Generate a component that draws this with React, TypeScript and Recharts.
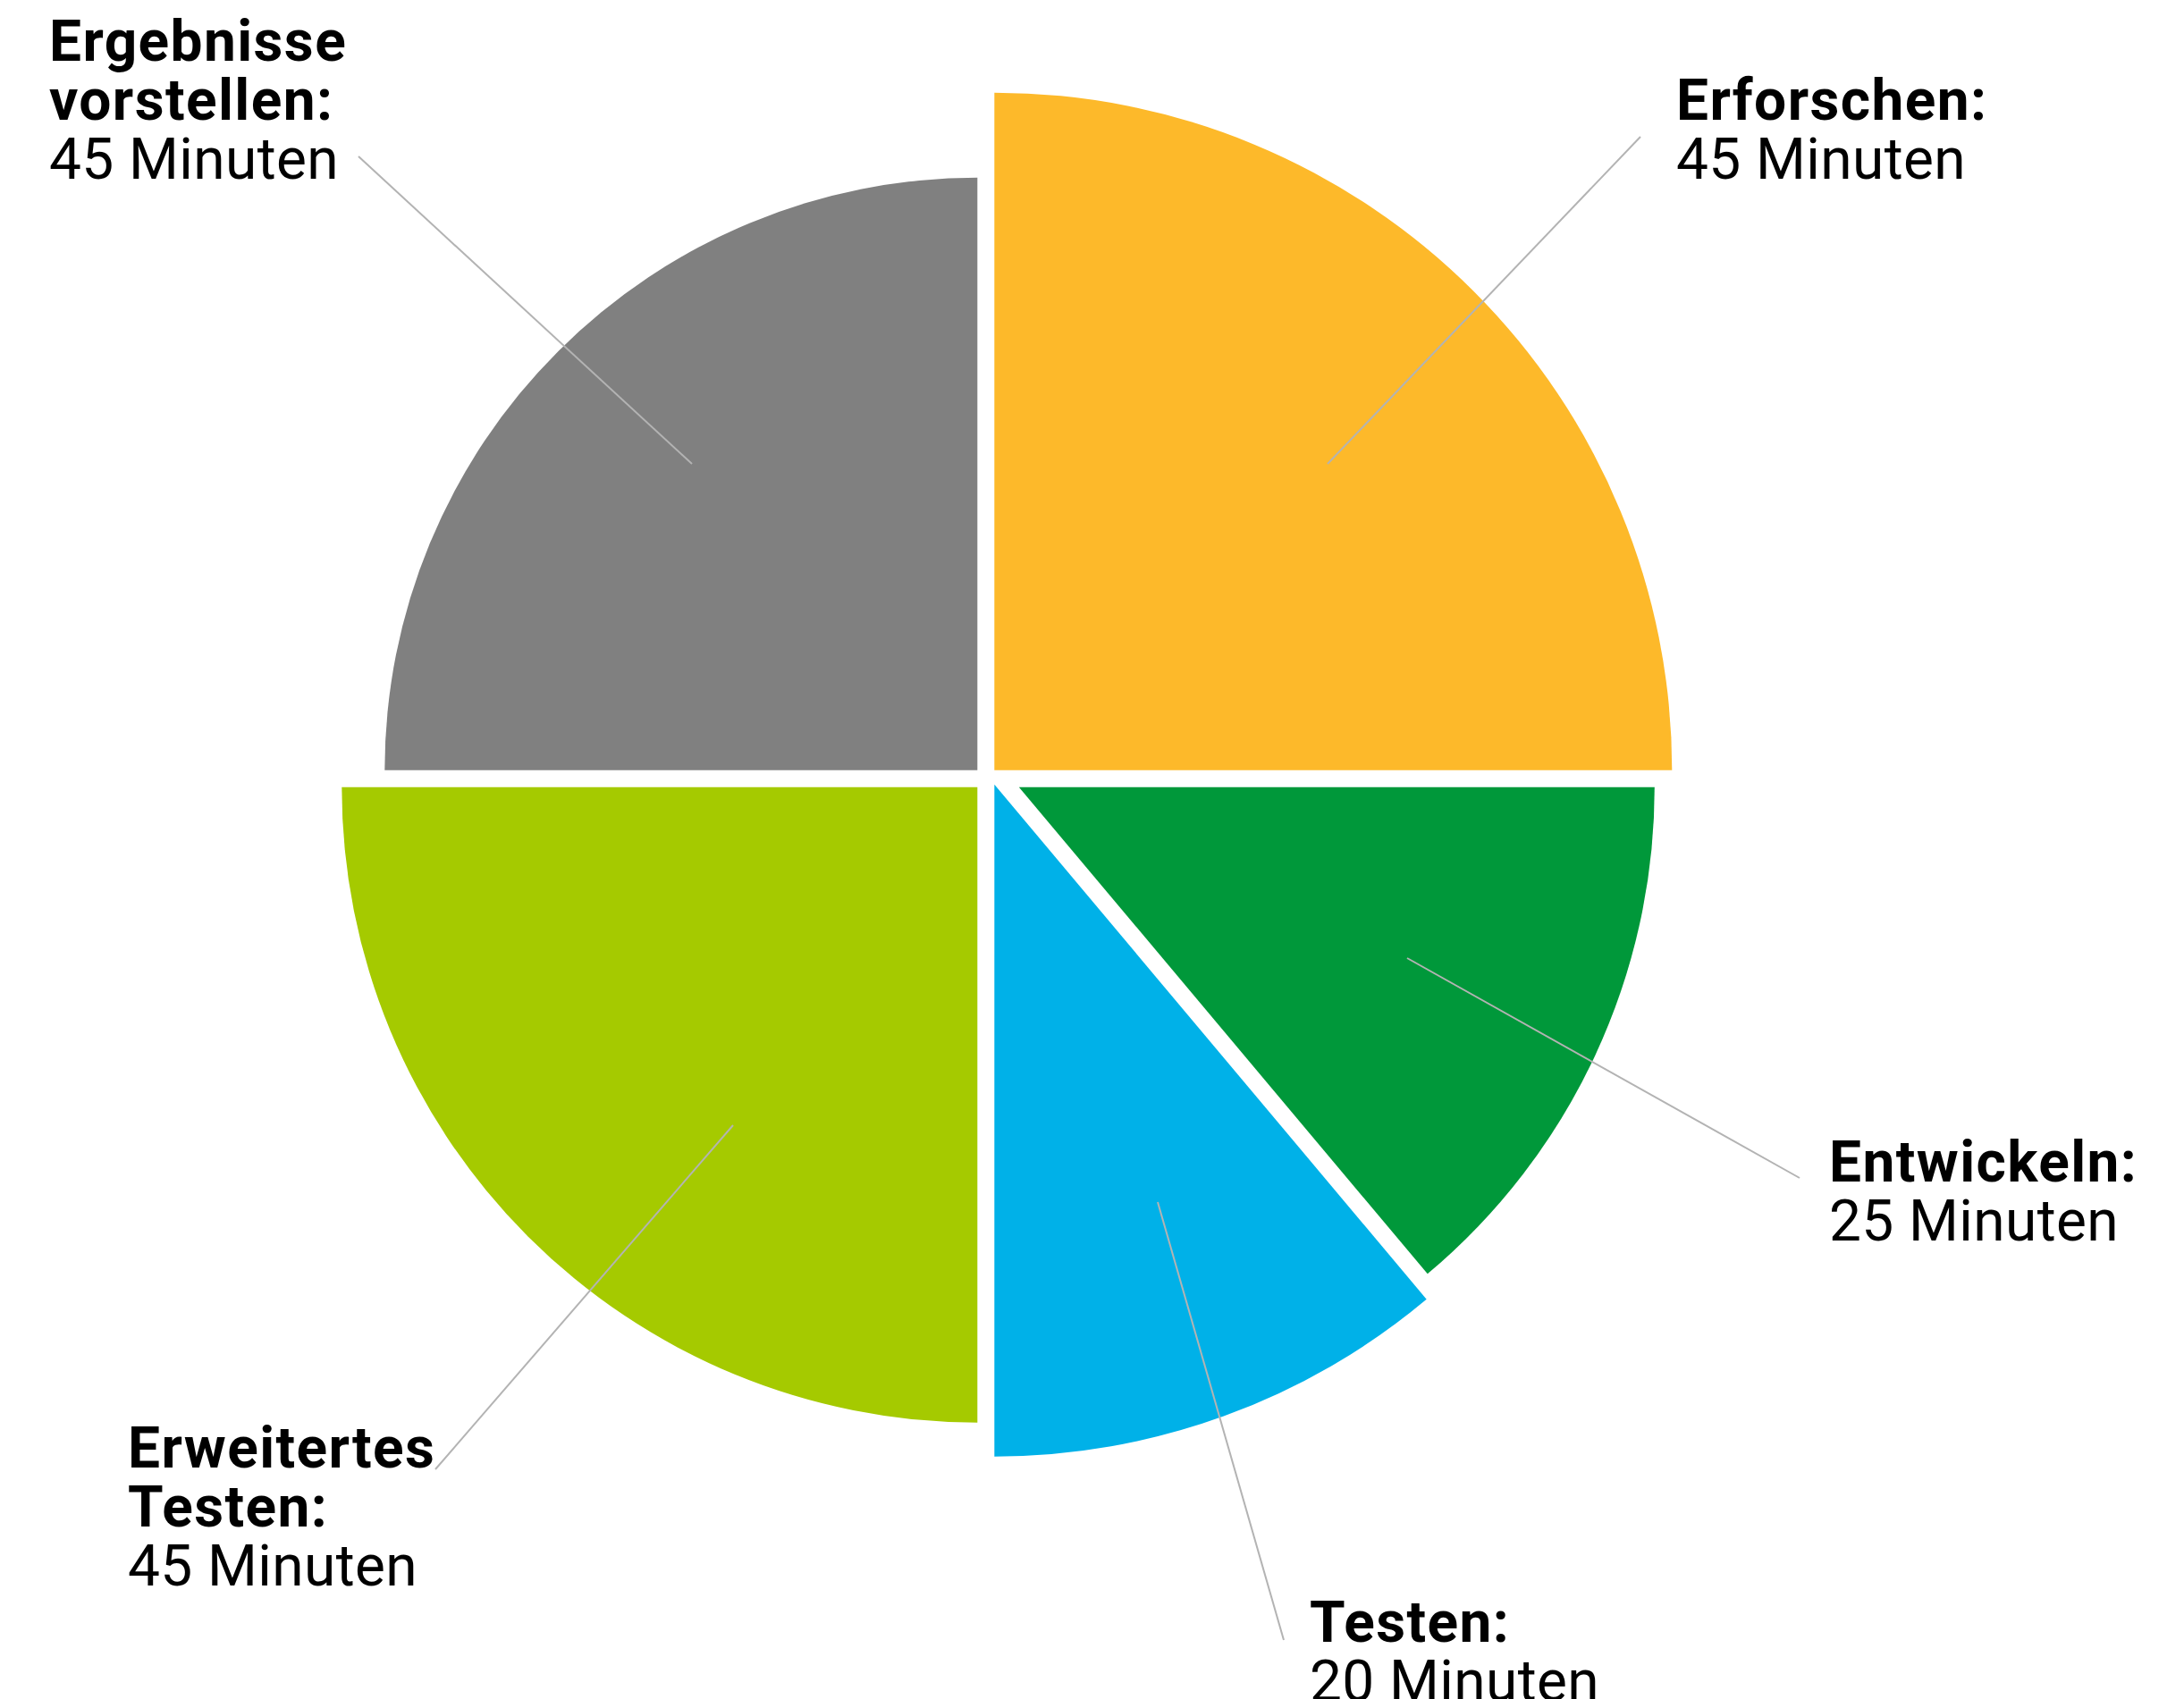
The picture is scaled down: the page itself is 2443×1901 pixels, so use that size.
import { PieChart, Pie, Cell } from 'recharts';

// Workshop-Ablauf: Dauer je Phase
const phases = ['Erforschen', 'Entwickeln', 'Testen', 'Erweitertes Testen', 'Ergebnisse vorstellen'];
const minutes = [45, 25, 20, 45, 45];
const unit = 'Minuten';

const colors = ['#fdb92a', '#00983a', '#00b1e8', '#a5ca00', '#808080'];

const data = phases.map((name, i) => ({ name, value: minutes[i] }));

// each wedge is pulled a little away from the centre and has its own radius
const CX = 1102.8;
const CY = 871.2;
const sliceOffset = [
  [9.5, -9.5],
  [37, 9.5],
  [9.5, 6.5],
  [-9.5, 9.5],
  [-9.5, -9.5],
];
const sliceRadius = [758, 711, 752, 711, 663];

// text position (left x, first baseline) and leader line (outer x/y, inner x/y)
const labelLayout = [
  { x: 1875, y: 134, wrap: false, line: [1835, 153, 1485, 519] },
  { x: 2046, y: 1322, wrap: false, line: [2013, 1318, 1574, 1072] },
  { x: 1465, y: 1837, wrap: false, line: [1436, 1835, 1295, 1345] },
  { x: 143, y: 1642, wrap: true, line: [487, 1644, 820, 1259] },
  { x: 55, y: 68, wrap: true, line: [401, 175, 774, 519] },
];
const LINE_STEP = 66;
const FONT = 'Roboto, sans-serif';

const renderLabel = (props: any) => {
  const { index, name, value } = props;
  const l = labelLayout[index];
  const nameRows: string[] = l.wrap ? String(name).split(' ') : [String(name)];
  nameRows[nameRows.length - 1] += ':';
  const [x1, y1, x2, y2] = l.line;
  return (
    <g key={`label-${index}`}>
      <line x1={x1} y1={y1} x2={x2} y2={y2} stroke="#b3b3b3" strokeWidth={2} />
      {nameRows.map((row, r) => (
        <text
          key={row}
          x={l.x}
          y={l.y + r * LINE_STEP}
          fontFamily={FONT}
          fontSize={64}
          fontWeight={700}
          letterSpacing={1.4}
          fill="#000"
        >
          {row}
        </text>
      ))}
      <text
        x={l.x}
        y={l.y + nameRows.length * LINE_STEP}
        fontFamily={FONT}
        fontSize={64}
        fontWeight={400}
        letterSpacing={0.4}
        fill="#000"
      >
        {`${value} ${unit}`}
      </text>
    </g>
  );
};

export default function App() {
  return (
    <div style={{ position: 'absolute', left: 0, top: 0, background: '#fff' }}>
      <PieChart width={2443} height={1901} margin={{ top: 0, right: 0, bottom: 0, left: 0 }}>
        {phases.map((phase, k) => (
          <Pie
            key={phase}
            data={data}
            dataKey="value"
            nameKey="name"
            cx={CX + sliceOffset[k][0]}
            cy={CY + sliceOffset[k][1]}
            innerRadius={0}
            outerRadius={sliceRadius[k]}
            startAngle={90}
            endAngle={-270}
            stroke="none"
            isAnimationActive={false}
            label={k === phases.length - 1 ? renderLabel : false}
            labelLine={false}
          >
            {data.map((entry, i) => (
              <Cell key={entry.name} fill={i === k ? colors[i] : 'transparent'} />
            ))}
          </Pie>
        ))}
      </PieChart>
    </div>
  );
}
